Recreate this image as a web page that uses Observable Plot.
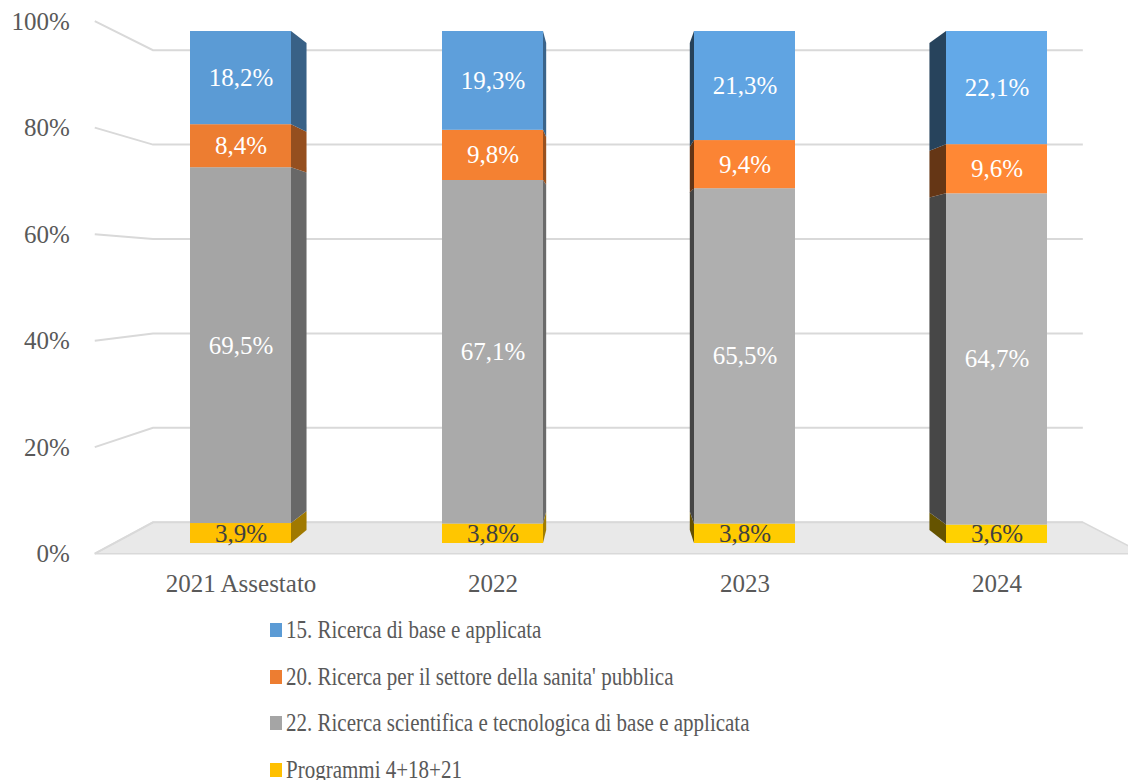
<!DOCTYPE html>
<html><head><meta charset="utf-8">
<script src="https://cdn.jsdelivr.net/npm/d3@7"></script>
<script src="https://cdn.jsdelivr.net/npm/@observablehq/plot@0.6"></script>
<style>
body{margin:0;background:#fff;font-family:'Liberation Serif';}
#chart svg{display:block}
#chart text{font-family:'Liberation Serif'}
#legend{padding-left:270px;font-family:'Liberation Serif';}
.item{height:46.5px;display:flex;align-items:center;color:#595959;font-size:25px;font-family:'Liberation Serif';}
.sw{width:12px;height:14px;margin-right:4px;flex:none}
.lab{display:inline-block;transform:scaleX(0.84);transform-origin:left center;white-space:nowrap;font-family:'Liberation Serif'}
</style></head><body><div id="chart"></div><div id="legend"></div>
<script>
// ---- data ----
const categories = ["2021 Assestato", "2022", "2023", "2024"];
const series = [
  "Programmi 4+18+21",
  "22. Ricerca scientifica e tecnologica di base e applicata",
  "20. Ricerca per il settore della sanita' pubblica",
  "15. Ricerca di base e applicata"
];
const programmi = [3.9, 3.8, 3.8, 3.6];
const ricerca22 = [69.5, 67.1, 65.5, 64.7];
const ricerca20 = [8.4, 9.8, 9.4, 9.6];
const ricerca15 = [18.2, 19.3, 21.3, 22.1];
const yTicks = [0, 20, 40, 60, 80, 100];
const colors = ["#ffc000", "#a5a5a5", "#ed7d31", "#5b9bd5"];
const legendOrder = [3, 2, 1, 0];
const FONT = "Liberation Serif";

// ---- build table ----
const valuesBySeries = [programmi, ricerca22, ricerca20, ricerca15];
const rows = [];
categories.forEach((cat, i) => {
  let acc = 0;
  series.forEach((s, j) => {
    const v = valuesBySeries[j][i];
    rows.push({cat, i, series: s, j, value: v, y0: acc, y1: acc + v, mid: acc + v / 2,
      color: d3.color(colors[j]).brighter(i * 0.08).formatHex()});
    acc += v;
  });
});

// ---- 3D view ----
const VP = {x: 608, y: 277};
const K_FRONT = 1.04, K_WALL = 0.922, K_BACK = 0.951;
const proj = (x, y, k) => [VP.x + (x - VP.x) * k, VP.y + (y - VP.y) * k];
const pts = (arr) => arr.map(p => p.join(",")).join(" ");

function floorMark(index, scales, values, dims) {
  const {y} = scales;
  const xL = dims.marginLeft, xR = dims.width - dims.marginRight;
  const g = d3.create("svg:g");
  const y0 = y(0);
  g.append("polygon")
    .attr("points", pts([proj(xL, y0, K_FRONT), proj(xR, y0, K_FRONT), proj(xR, y0, K_WALL), proj(xL, y0, K_WALL)]))
    .attr("fill", "#e9e9e9").attr("stroke", "#d9d9d9").attr("stroke-width", 1.5);
  for (const t of yTicks) {
    const yy = y(t);
    const a = proj(xL, yy, K_FRONT), b = proj(xL, yy, K_WALL), c = proj(xR, yy, K_WALL);
    g.append("polyline").attr("points", pts([a, b, c]))
      .attr("fill", "none").attr("stroke", "#d9d9d9").attr("stroke-width", 2);
    g.append("text").attr("x", a[0] - 25).attr("y", a[1]).attr("dy", "0.35em")
      .attr("text-anchor", "end").attr("fill", "#595959").attr("font-size", 25)
      .attr("font-family", FONT)
      .text(t + "%");
  }
  return g.node();
}

function sideMark(index, scales, values, dims) {
  const {x, y} = scales;
  const bw = x.bandwidth();
  const g = d3.create("svg:g");
  for (const r of rows) {
    const x0 = x(r.cat), x1 = x0 + bw;
    const right = (x0 + x1) / 2 < VP.x;
    const xe = right ? x1 : x0;
    const f0 = [xe, y(r.y0)], f1 = [xe, y(r.y1)];
    const b1 = proj(xe, y(r.y1), K_BACK), b0 = proj(xe, y(r.y0), K_BACK);
    g.append("polygon").attr("points", pts([f0, f1, b1, b0]))
      .attr("fill", d3.color(r.color).darker(right ? 1.3 : 2.6).formatHex());
  }
  return g.node();
}

const fmt = v => v.toFixed(1).replace(".", ",") + "%";

const chart = Plot.plot({
  width: 1128,
  height: 607,
  marginLeft: 114.5,
  marginRight: 5,
  marginTop: 31,
  marginBottom: 64,
  style: {fontFamily: FONT, fontSize: "25px", color: "#595959", background: "white"},
  x: {domain: categories, paddingInner: 0.6, paddingOuter: 0.3, label: null, tickSize: 0, tickPadding: 31},
  y: {domain: [0, 100], axis: null},
  color: {type: "identity"},
  marks: [
    floorMark,
    Plot.barY(rows, {x: "cat", y1: "y0", y2: "y1", fill: "color"}),
    sideMark,
    Plot.text(rows, {x: "cat", y: "mid", text: d => fmt(d.value), fontSize: 25, fontFamily: FONT,
      fill: d => d.j === 0 ? "#404040" : "#ffffff"})
  ]
});
document.getElementById("chart").appendChild(chart);

const legend = document.getElementById("legend");
for (const j of legendOrder) {
  const item = document.createElement("div");
  item.className = "item";
  const sw = document.createElement("span");
  sw.className = "sw"; sw.style.background = colors[j];
  const lab = document.createElement("span");
  lab.className = "lab"; lab.textContent = series[j];
  lab.style.fontFamily = FONT;
  item.appendChild(sw); item.appendChild(lab);
  legend.appendChild(item);
}
</script></body></html>
